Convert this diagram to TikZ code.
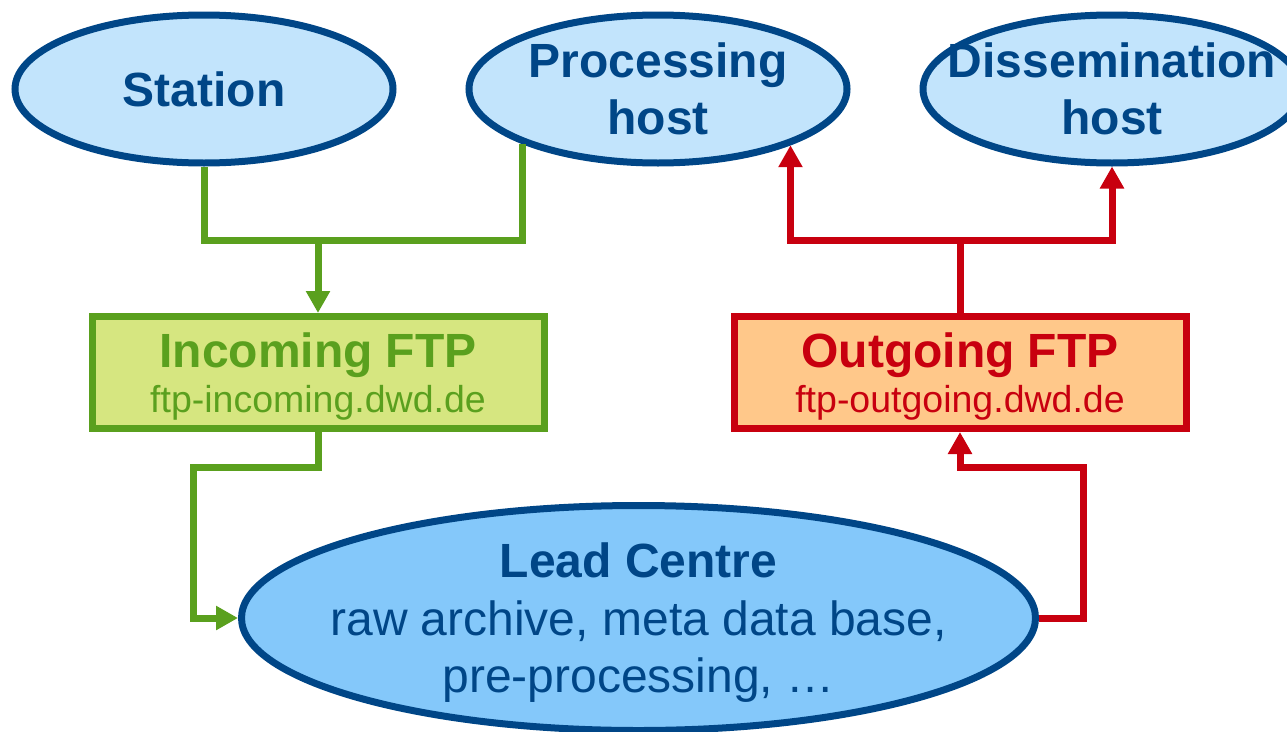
\documentclass[tikz,border=0pt]{standalone}
\usepackage{fontspec}
\setmainfont{Liberation Sans}
\usetikzlibrary{shapes.geometric,arrows.meta,calc}
\definecolor{dblue}{RGB}{0,70,135}
\definecolor{lblue}{RGB}{194,228,252}
\definecolor{mblue}{RGB}{132,200,250}
\definecolor{dgreen}{RGB}{90,160,30}
\definecolor{lgreen}{RGB}{214,230,128}
\definecolor{dred}{RGB}{200,0,15}
\definecolor{lorange}{RGB}{255,200,138}
\begin{document}
\begin{tikzpicture}[x=1pt,y=-1pt,
  host/.style={ellipse,draw=dblue,fill=lblue,line width=7pt,inner xsep=-40pt,inner ysep=0pt,
    text=dblue,font=\fontsize{48}{57}\selectfont\bfseries,align=center,
    minimum width=378pt,minimum height=148pt,text depth=-5pt},
  lead/.style={ellipse,draw=dblue,fill=mblue,line width=7pt,inner xsep=-40pt,inner ysep=0pt,
    text=dblue,font=\fontsize{48}{57.5}\selectfont,align=center,
    minimum width=794pt,minimum height=225pt,text depth=-4pt},
  ftpbox/.style={rectangle,line width=7pt,inner sep=0pt,minimum width=452pt,minimum height=112pt,
    align=center,text depth=-5pt,font=\fontsize{37.5}{45.5}\selectfont},
  gline/.style={draw=dgreen,line width=7pt},
  rline/.style={draw=dred,line width=7pt},
  tip/.style={-{Triangle[length=22pt,width=23pt]}}
]
\useasboundingbox (0,0) rectangle (1287,731);
% nodes
\node[host] (st) at (204,89) {Station};
\node[host] (ph) at (658,89) {Processing\\host};
\node[host] (dh) at (1112,89) {Dissemination\\host};
\node[ftpbox,draw=dgreen,fill=lgreen,text=dgreen] (inc) at (318,372.5)
  {{\fontsize{48}{45}\selectfont\bfseries Incoming FTP}\\ftp-incoming.dwd.de};
\node[ftpbox,draw=dred,fill=lorange,text=dred] (out) at (960,372.5)
  {{\fontsize{48}{45}\selectfont\bfseries Outgoing FTP}\\ftp-outgoing.dwd.de};
\node[lead] (lc) at (638.5,618)
  {{\bfseries Lead Centre}\\raw archive, meta data base,\\pre-processing, …};
% junctions
\coordinate (gj) at (318,240);
\coordinate (rj) at (960,240);
\coordinate (g1) at (193,467);
\coordinate (r1) at (1083,467);
% green connectors
\draw[gline] (st.south) |- (ph.202.2 |- gj) -- (ph.202.2);
\draw[gline,tip] (gj) -- (inc.north);
\draw[gline,tip] (inc.south) |- (g1) |- (lc.west);
% red connectors
\draw[rline] (out.north) -- (rj);
\draw[rline,tip] (rj) -| (ph.337.2);
\draw[rline,tip] (rj) -| (dh.south);
\draw[rline,tip] (lc.east) -| (r1) -| (out.south);
\end{tikzpicture}
\end{document}
